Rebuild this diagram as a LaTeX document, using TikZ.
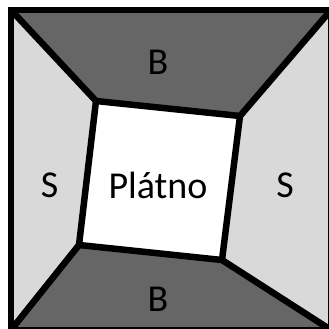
\documentclass[tikz,border=0pt]{standalone}
\usepackage{fontspec}
\setmainfont{Carlito}
\usepackage{tikz}
\usetikzlibrary{positioning}

\definecolor{sidegray}{RGB}{217,217,217}
\definecolor{bandgray}{RGB}{102,102,102}

\begin{document}
\begin{tikzpicture}[
  x=1pt, y=-1pt,
  edge/.style={draw=black, line width=6.5pt},
  side/.style={fill=sidegray},
  band/.style={fill=bandgray},
  canvas/.style={fill=white},
  lbl/.style={font=\fontsize{38}{42}\selectfont, inner sep=0pt},
]
\useasboundingbox (0,0) rectangle (329,329);
\clip (0,0) rectangle (329,329);

% ── corners: outer frame and inner canvas ───────────────────────────────────
\coordinate (otl) at (11,10);
\coordinate (otr) at (331,10);
\coordinate (obr) at (331,330);
\coordinate (obl) at (11,330);

\coordinate (itl) at (96,101);
\coordinate (itr) at (240,116);
\coordinate (ibr) at (222,260);
\coordinate (ibl) at (79,245);

% ── fills ───────────────────────────────────────────────────────────────────
\fill[side] (otl) -- (otr) -- (obr) -- (obl) -- cycle;
\fill[band] (otl) -- (otr) -- (itr) -- (itl) -- cycle;
\fill[band] (ibl) -- (ibr) -- (obr) -- (obl) -- cycle;
\fill[canvas] (itl) -- (itr) -- (ibr) -- (ibl) -- cycle;

% ── outlines ────────────────────────────────────────────────────────────────
\draw[edge] (otl) -- (otr) -- (obr) -- (obl) -- cycle;
\draw[edge] (itl) -- (itr) -- (ibr) -- (ibl) -- cycle;
\draw[edge] (otl) -- (itl);
\draw[edge] (otr) -- (itr);
\draw[edge] (obr) -- (ibr);
\draw[edge] (obl) -- (ibl);

% ── labels ──────────────────────────────────────────────────────────────────
\node[lbl] (plat)   at (158,185)   {Plátno};
\node[lbl] (btop)   at (158,62)    {B};
\node[lbl] (bbot)   at (158,299)   {B};
\node[lbl] (sleft)  at (49.5,185)  {S};
\node[lbl] (sright) at (285,185)   {S};
\end{tikzpicture}
\end{document}
